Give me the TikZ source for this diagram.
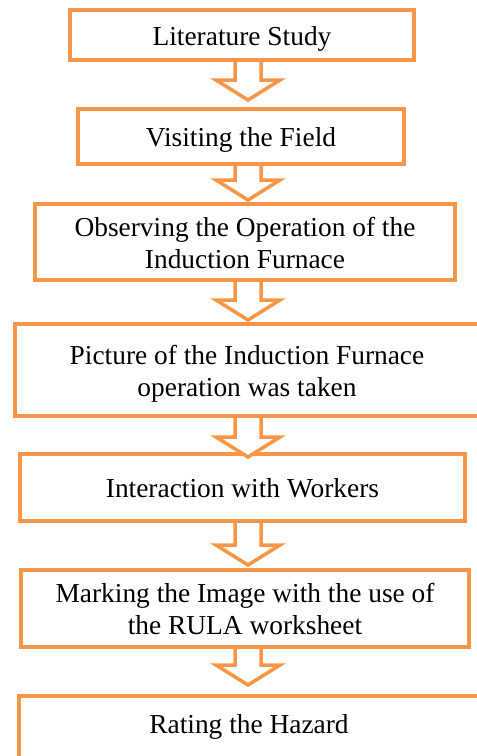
\documentclass[tikz,border=0pt]{standalone}
\usepackage{fontspec}
\setmainfont{Liberation Serif}
\usetikzlibrary{calc}
\definecolor{boxorange}{HTML}{F79646}
\newcommand\boxtext[2][4pt]{\raisebox{0pt}[\dimexpr\height+#1+#1\relax][\depth]{\begin{tabular}{@{}c@{}}#2\end{tabular}}}
\tikzset{
  flowbox/.style={draw=boxorange, line width=4pt, fill=white, rectangle, inner sep=0pt,
    font=\fontsize{27.4}{32}\selectfont, text=black},
  blockarrow/.style={draw=boxorange, line width=3.5pt, fill=white, line join=miter}
}
\newcommand\blockarr[2]{%
  \path[blockarrow] ($(#1)+(-13,0)$) -- ($(#2)+(-13,-20)$) -- ($(#2)+(-32,-20)$) -- (#2)
    -- ($(#2)+(32,-20)$) -- ($(#2)+(13,-20)$) -- ($(#1)+(13,0)$);}
\begin{document}
\begin{tikzpicture}[x=1pt,y=-1pt]
\useasboundingbox (0,0) rectangle (477,756);
\clip (0,0) rectangle (477,756);
\node[flowbox, minimum width=344pt, minimum height=50pt] (b1) at (242,35) {\boxtext{Literature Study}};
\node[flowbox, minimum width=326pt, minimum height=55pt] (b2) at (241,136.5) {\boxtext{Visiting the Field}};
\node[flowbox, minimum width=420pt, minimum height=76pt] (b3) at (245,242) {\boxtext{Observing the Operation of the\\Induction Furnace}};
\node[flowbox, minimum width=464pt, minimum height=92pt] (b4) at (247,370) {\boxtext{Picture of the Induction Furnace\\operation was taken}};
\node[flowbox, minimum width=445pt, minimum height=67pt] (b5) at (242.5,487.5) {\boxtext{Interaction with Workers}};
\node[flowbox, minimum width=448pt, minimum height=77pt] (b6) at (245,608.5) {\boxtext{Marking the Image with the use of\\the RULA worksheet}};
\node[flowbox, minimum width=460pt, minimum height=68pt] (b7) at (249,730) {\boxtext[-3.4pt]{Rating the Hazard}};
\coordinate (t1) at (248,100);
\coordinate (t2) at (248,200);
\coordinate (t3) at (248,320);
\coordinate (t4) at (248,457);
\coordinate (t5) at (248,565);
\coordinate (t6) at (248,685);
\blockarr{b1.south -| t1}{t1}
\blockarr{b2.south -| t2}{t2}
\blockarr{b3.south -| t3}{t3}
\blockarr{b4.south -| t4}{t4}
\blockarr{b5.south -| t5}{t5}
\blockarr{b6.south -| t6}{t6}
\end{tikzpicture}
\end{document}
